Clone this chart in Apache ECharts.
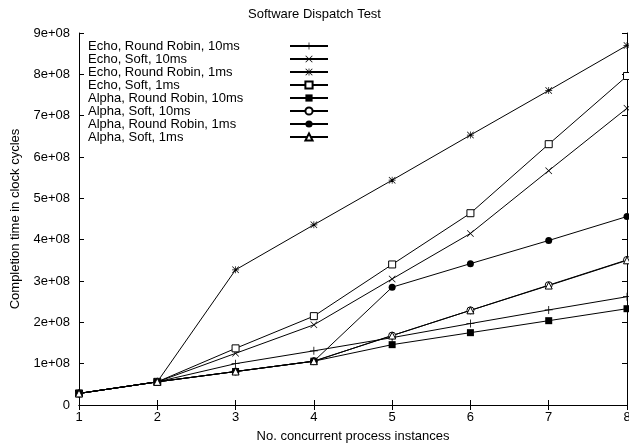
<!DOCTYPE html>
<html>
<head>
<meta charset="utf-8">
<script src="https://cdn.jsdelivr.net/npm/echarts@6/dist/echarts.min.js"></script>
<style>html,body{margin:0;padding:0;background:#fff;}#c{width:629px;height:446px;}</style>
</head>
<body>
<div id="c"></div>
<script>
const xValues = [1, 2, 3, 4, 5, 6, 7, 8];
const seriesNames = [
  'Echo, Round Robin, 10ms',
  'Echo, Soft, 10ms',
  'Echo, Round Robin, 1ms',
  'Echo, Soft, 1ms',
  'Alpha, Round Robin, 10ms',
  'Alpha, Soft, 10ms',
  'Alpha, Round Robin, 1ms',
  'Alpha, Soft, 1ms'
];
const echoRR10   = [28e6, 56e6, 100e6, 131e6, 163e6, 197e6, 230e6, 262e6];
const echoSoft10 = [28e6, 56e6, 125e6, 194e6, 305e6, 415e6, 567e6, 718e6];
const echoRR1    = [28e6, 56e6, 327e6, 436e6, 544e6, 653e6, 761e6, 870e6];
const echoSoft1  = [28e6, 56e6, 137e6, 215e6, 340e6, 464e6, 631e6, 796e6];
const alphaRR10  = [28e6, 56e6, 81e6, 106e6, 146e6, 175e6, 204e6, 233e6];
const alphaSoft10= [28e6, 56e6, 81e6, 106e6, 168e6, 229e6, 290e6, 351e6];
const alphaRR1   = [28e6, 56e6, 81e6, 106e6, 285e6, 342e6, 398e6, 456e6];
const alphaSoft1 = [28e6, 56e6, 81e6, 106e6, 168e6, 229e6, 289e6, 350e6];
const yTickLabels = ['0', '1e+08', '2e+08', '3e+08', '4e+08', '5e+08', '6e+08', '7e+08', '8e+08', '9e+08'];

const PLUS = 'path://M4.5,0H5.5V4.5H10V5.5H5.5V10H4.5V5.5H0V4.5H4.5Z';
const CROSS = 'path://M0,0.7L0.7,0L5,4.3L9.3,0L10,0.7L5.7,5L10,9.3L9.3,10L5,5.7L0.7,10L0,9.3L4.3,5Z';
const STAR = 'path://M4.5,0H5.5V4.5H10V5.5H5.5V10H4.5V5.5H0V4.5H4.5Z M0,0.7L0.7,0L5,4.3L9.3,0L10,0.7L5.7,5L10,9.3L9.3,10L5,5.7L0.7,10L0,9.3L4.3,5Z';

const allData = [echoRR10, echoSoft10, echoRR1, echoSoft1, alphaRR10, alphaSoft10, alphaRR1, alphaSoft1];
const styles = [
  {symbol: PLUS, size: 8, fill: '#000'},
  {symbol: CROSS, size: 7, fill: '#000'},
  {symbol: STAR, size: 7, fill: '#000'},
  {symbol: 'rect', size: 7, fill: '#fff'},
  {symbol: 'rect', size: 7, fill: '#000'},
  {symbol: 'circle', size: 7, fill: '#fff'},
  {symbol: 'circle', size: 7, fill: '#000'},
  {symbol: 'triangle', size: 7, fill: '#fff'}
];

const series = seriesNames.map((name, i) => ({
  name: name,
  type: 'line',
  data: xValues.map((x, j) => [x, allData[i][j]]),
  symbol: styles[i].symbol,
  symbolSize: styles[i].size,
  showAllSymbol: true,
  lineStyle: {color: '#000', width: 1},
  itemStyle: {color: styles[i].fill, borderColor: '#000', borderWidth: styles[i].fill === '#fff' ? 1 : 0},
  emphasis: {disabled: true},
  animation: false,
  z: 2
}));

const font = 'Liberation Sans, Arial, sans-serif';
const chart = echarts.init(document.getElementById('c'), null, {renderer: 'canvas'});
chart.setOption({
  backgroundColor: '#fff',
  animation: false,
  title: {
    text: 'Software Dispatch Test', left: 'center', top: 3,
    textStyle: {fontFamily: font, fontSize: 13, fontWeight: 'normal', color: '#000'}
  },
  legend: {
    orient: 'vertical', left: 83, top: 34.5,
    align: 'right', itemWidth: 38, itemHeight: 9, itemGap: 0,
    data: seriesNames,
    selectedMode: false,
    formatter: n => '{a|' + n + '}',
    textStyle: {
      fontFamily: font, fontSize: 13, color: '#000',
      rich: {a: {fontFamily: font, fontSize: 13, color: '#000', width: 197, align: 'left', lineHeight: 13.33}}
    }
  },
  grid: {left: 79, right: 2, top: 33, bottom: 41, containLabel: false, outerBoundsMode: 'none'},
  xAxis: [{
    type: 'value', min: 1, max: 8, interval: 1,
    name: 'No. concurrent process instances', nameLocation: 'middle', nameGap: 25,
    nameTextStyle: {fontFamily: font, fontSize: 13, color: '#000'},
    axisLine: {lineStyle: {color: '#000', width: 1}},
    axisTick: {inside: true, length: 5, lineStyle: {color: '#000'}},
    axisLabel: {fontFamily: font, fontSize: 13, color: '#000', margin: 6},
    splitLine: {show: false}
  }, {
    type: 'value', min: 1, max: 8, interval: 1, position: 'top',
    axisLine: {show: true, lineStyle: {color: '#000', width: 1}},
    axisTick: {inside: true, length: 5, lineStyle: {color: '#000'}},
    axisLabel: {show: false}, splitLine: {show: false}
  }],
  yAxis: [{
    type: 'value', min: 0, max: 9e8, interval: 1e8,
    name: 'Completion time in clock cycles', nameLocation: 'middle', nameGap: 57,
    nameTextStyle: {fontFamily: font, fontSize: 13, color: '#000'},
    axisLine: {show: true, lineStyle: {color: '#000', width: 1}},
    axisTick: {inside: true, length: 5, lineStyle: {color: '#000'}},
    axisLabel: {fontFamily: font, fontSize: 13, color: '#000', margin: 9,
      formatter: v => yTickLabels[Math.round(v / 1e8)]},
    splitLine: {show: false}
  }, {
    type: 'value', min: 0, max: 9e8, interval: 1e8, position: 'right',
    axisLine: {show: true, lineStyle: {color: '#000', width: 1}},
    axisTick: {inside: true, length: 5, lineStyle: {color: '#000'}},
    axisLabel: {show: false}, splitLine: {show: false}
  }],
  series: series
});
</script>
</body>
</html>
